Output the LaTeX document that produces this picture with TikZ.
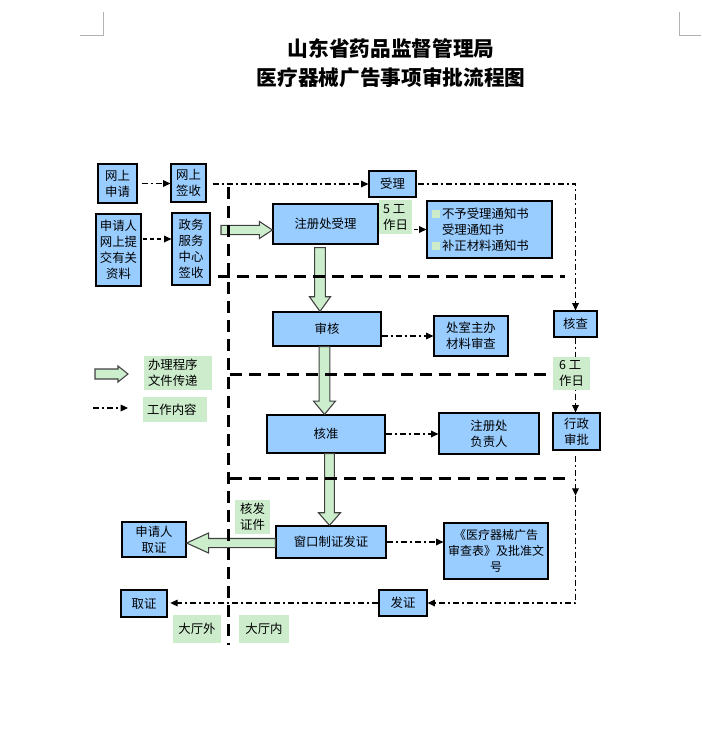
\documentclass[tikz,border=0pt]{standalone}
\usepackage{fontspec}
\setmainfont{Noto Sans CJK SC}
\usetikzlibrary{calc,arrows.meta}
\definecolor{boxblue}{RGB}{153,204,255}
\definecolor{labgreen}{RGB}{204,236,204}
\definecolor{arrgreen}{RGB}{204,238,204}
\newcommand\greensq{\textcolor{labgreen}{\rule[0.5pt]{6pt}{6pt}}\hspace{1.5pt}}
\newcommand\fatright[5]{\draw[fat] let \p1=(#1), \p2=(#2) in
  (\x1,\y1+#3pt) -- (\x2-#5pt,\y1+#3pt) -- (\x2-#5pt,\y1+#4pt) -- (\x2,\y1) --
  (\x2-#5pt,\y1-#4pt) -- (\x2-#5pt,\y1-#3pt) -- (\x1,\y1-#3pt) -- cycle;}
\newcommand\fatleft[5]{\draw[fat] let \p1=(#1), \p2=(#2) in
  (\x1,\y1+#3pt) -- (\x2+#5pt,\y1+#3pt) -- (\x2+#5pt,\y1+#4pt) -- (\x2,\y1) --
  (\x2+#5pt,\y1-#4pt) -- (\x2+#5pt,\y1-#3pt) -- (\x1,\y1-#3pt) -- cycle;}
\newcommand\fatdown[5]{\draw[fat] let \p1=(#1), \p2=(#2) in
  (\x1-#3pt,\y1) -- (\x1-#3pt,\y2+#5pt) -- (\x1-#4pt,\y2+#5pt) -- (\x1,\y2) --
  (\x1+#4pt,\y2+#5pt) -- (\x1+#3pt,\y2+#5pt) -- (\x1+#3pt,\y1) -- cycle;}
\begin{document}
\begin{tikzpicture}[x=0.75pt,y=-0.75pt,
  every node/.style={font=\fontsize{9.3pt}{12pt}\selectfont, inner sep=0pt},
  box/.style={draw=black, line width=0.9pt, fill=boxblue, align=center},
  lab/.style={fill=labgreen, align=center},
  dd/.style={line width=0.9pt, dash pattern=on 4.5pt off 2.25pt on 1.5pt off 2.25pt,
             -{Triangle[length=5.5pt,width=5pt]}},
  ds/.style={line width=0.9pt, dash pattern=on 3pt off 2.25pt,
             -{Triangle[length=5.5pt,width=5pt]}},
  bigdash/.style={line width=2.25pt, dash pattern=on 9pt off 5.25pt},
  fat/.style={draw=black!75, fill=arrgreen, line width=0.8pt, line join=miter},
  corner/.style={draw=gray!60, line width=0.6pt}]
\useasboundingbox (0,0) rectangle (701,736);

% corner marks
\draw[corner] (80,35) -- (103,35) -- (103,12);
\draw[corner] (679,12) -- (679,35) -- (701,35);

% title
\node[font=\fontsize{15.5pt}{18pt}\selectfont\bfseries] (t1) at (391,49) {山东省药品监督管理局};
\node[font=\fontsize{15.5pt}{18pt}\selectfont\bfseries] (t2) at (391,78) {医疗器械广告事项审批流程图};

% boxes
\node[box, minimum width=29.25pt, minimum height=29.25pt] (sq) at (117.5,183.5) {网上\\申请};
\node[box, minimum width=26.25pt, minimum height=28.5pt] (qs) at (188.5,183) {网上\\签收};
\node[box, minimum width=33.75pt, minimum height=54pt] (tj) at (118.5,250) {申请人\\网上提\\交有关\\资料};
\node[box, minimum width=28.5pt, minimum height=54pt] (zw) at (191,249) {政务\\服务\\中心\\签收};
\node[box, minimum width=78.75pt, minimum height=30pt] (zc) at (325.5,224) {注册处受理};
\node[box, minimum width=35.25pt, minimum height=19.5pt] (sl) at (392.5,184) {受理};
\node[lab, minimum width=24.75pt, minimum height=25.5pt, align=left] (d5) at (395.5,217) {5 工\\作日};
\node[box, align=left, text width=86.25pt, inner xsep=3.75pt, minimum height=42.75pt] (tz) at (489.5,229.5)
  {\greensq 不予受理通知书\\\hspace*{7.5pt}受理通知书\\\greensq 补正材料通知书};
\node[box, minimum width=81pt, minimum height=25.5pt] (sh) at (327,329) {审核};
\node[box, minimum width=55.5pt, minimum height=30pt] (cs) at (471,336) {处室主办\\材料审查};
\node[box, minimum width=32.25pt, minimum height=19.5pt] (hc) at (575.5,324) {核查};
\node[box, minimum width=35.25pt, minimum height=27.75pt] (xz) at (576.5,431.5) {行政\\审批};
\node[box, minimum width=88.5pt, minimum height=28.5pt] (hz) at (326,434) {核准};
\node[box, minimum width=75pt, minimum height=30.75pt] (fz) at (489,433.5) {注册处\\负责人};
\node[box, minimum width=82.5pt, minimum height=24pt] (ck) at (331,542) {窗口制证发证};
\node[box, minimum width=48pt, minimum height=26.25pt] (qz1) at (154,539.5) {申请人\\取证};
\node[lab, minimum width=26.25pt, minimum height=25.5pt, align=left] (hf) at (252.5,517) {核发\\证件};
\node[box, minimum width=34.5pt, minimum height=20.25pt] (qz2) at (144,603.5) {取证};
\node[lab, minimum width=36pt, minimum height=21pt] (dw) at (197,629) {大厅外};
\node[lab, minimum width=37.5pt, minimum height=21pt] (dn) at (264,629) {大厅内};
\node[box, minimum width=78pt, minimum height=42pt, font=\fontsize{9pt}{12pt}\selectfont] (bg) at (496,551)
  {《医疗器械广告\\审查表》及批准文\\号};
\node[box, minimum width=36pt, minimum height=19.5pt] (fa) at (403,603) {发证};

% legend
\node[lab, align=left, text width=45pt, inner xsep=3pt, minimum height=25.5pt] (lg1) at (178,373) {办理程序\\文件传递};
\node[lab, align=left, text width=42pt, inner xsep=3pt, minimum height=18.75pt] (lg2) at (175,409.5) {工作内容};
\coordinate (lga) at (95,374);
\coordinate (lgb) at (128,374);
\fatright{lga}{lgb}{3.75}{6}{7.5}
\coordinate (lgc) at (93,408);
\coordinate (lgd) at (128,408);
\draw[dd] (lgc) -- (lgd);

% work-content connectors
\draw[dd, shorten <=3pt] (sq.east) -- (qs.west |- sq.east);
\draw[dd, shorten <=4.5pt] (qs.east |- sl.west) -- (sl.west);
\draw[dd, shorten <=1pt] (sl.east) -| (hc.north);
\draw[ds, shorten <=1pt] ($(tj.east)+(0,-11)$) -- ($(zw.west)+(0,-10)$);
\draw[ds, shorten <=1pt] (d5.east |- tz.west) -- (tz.west);
\draw[dd] (sh.east |- cs.west) -- (cs.west);
\draw[dd] (hc.south) -- (hc.south |- xz.north);
\draw[dd] (hz.east) -- (fz.west |- hz.east);
\draw[dd] (ck.east) -- (bg.west |- ck.east);
\coordinate (xm) at ($(hc.south |- xz.south)+(0,45)$);
\draw[dd, shorten <=4pt] (hc.south |- xz.south) -- (xm);
\draw[dd] (xm) |- (fa.east);
\draw[dd, shorten >=2pt] (fa.west) -- (qz2.east |- fa.west);

% procedure (fat) arrows
\coordinate (a1s) at (221,230);
\fatright{a1s}{zc.west |- a1s}{3.5}{6.4}{9.75}
\coordinate (a2s) at ($(zc.south)+(-5.5,3)$);
\fatdown{a2s}{a2s |- sh.north}{4}{7.9}{11}
\coordinate (a3s) at ($(sh.south)+(-2.5,0)$);
\fatdown{a3s}{a3s |- hz.north}{4}{8.25}{10}
\coordinate (a4s) at ($(hz.south)+(3.5,0)$);
\fatdown{a4s}{a4s |- ck.north}{3.6}{8.25}{9.5}
\coordinate (a5s) at ($(ck.west)+(0,1)$);
\fatleft{a5s}{qz1.east |- a5s}{3.4}{7.5}{16.5}

% hall dividers
\draw[bigdash] (228,187) -- (228,645);
\draw[bigdash] (218,276) -- (565,276);
\draw[bigdash] (230,374) -- (553,374);
\draw[bigdash] (230,478) -- (570,478);

% label over the line
\node[lab, minimum width=27.75pt, minimum height=24.75pt, align=left] (d6) at (571.5,373.5) {6 工\\作日};
\end{tikzpicture}
\end{document}
